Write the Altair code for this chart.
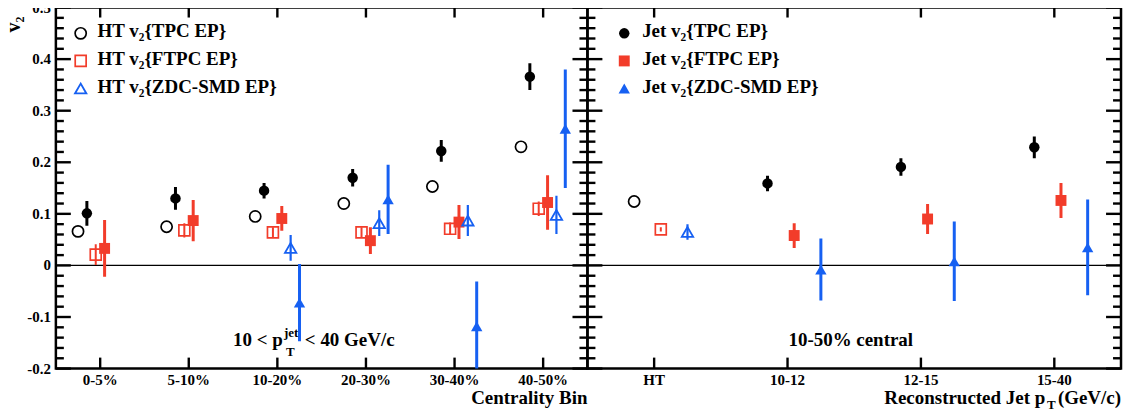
import altair as alt
import numpy as np
import pandas as pd

# ---------------- data ----------------
cent_bins = ["0-5%", "5-10%", "10-20%", "20-30%", "30-40%", "40-50%"]

ht_tpc_cent = [0.066, 0.075, 0.095, 0.120, 0.153, 0.230]
ht_tpc_cent_err = [0.0, 0.0, 0.0, 0.0, 0.0, 0.0]
jet_tpc_cent = [0.101, 0.130, 0.145, 0.170, 0.222, 0.366]
jet_tpc_cent_err = [0.024, 0.022, 0.015, 0.017, 0.021, 0.026]
ht_ftpc_cent = [0.021, 0.068, 0.064, 0.064, 0.071, 0.110]
ht_ftpc_cent_err = [0.020, 0.014, 0.010, 0.010, 0.012, 0.014]
jet_ftpc_cent = [0.033, 0.087, 0.091, 0.048, 0.084, 0.122]
jet_ftpc_cent_err = [0.055, 0.040, 0.024, 0.026, 0.033, 0.053]
ht_zdc_cent = [None, None, 0.034, 0.082, 0.087, 0.098]
ht_zdc_cent_err = [None, None, 0.025, 0.025, 0.030, 0.037]
jet_zdc_cent = [None, None, -0.072, 0.128, -0.118, 0.265]
jet_zdc_cent_err = [None, None, 0.075, 0.067, 0.087, 0.115]

pt_bins = ["HT", "10-12", "12-15", "15-40"]

ht_tpc_pt = [0.124, None, None, None]
ht_tpc_pt_err = [0.0, None, None, None]
ht_ftpc_pt = [0.070, None, None, None]
ht_ftpc_pt_err = [0.004, None, None, None]
ht_zdc_pt = [0.065, None, None, None]
ht_zdc_pt_err = [0.015, None, None, None]
jet_tpc_pt = [None, 0.159, 0.191, 0.229]
jet_tpc_pt_err = [None, 0.015, 0.017, 0.021]
jet_ftpc_pt = [None, 0.058, 0.090, 0.126]
jet_ftpc_pt_err = [None, 0.024, 0.029, 0.034]
jet_zdc_pt = [None, -0.008, 0.008, 0.035]
jet_zdc_pt_err = [None, 0.060, 0.077, 0.093]

y_major = [-0.2, -0.1, 0.0, 0.1, 0.2, 0.3, 0.4, 0.5]
y_major_labels = ["-0.2", "-0.1", "0", "0.1", "0.2", "0.3", "0.4", "0.5"]

HT_TPC = "HT v\u2082{TPC EP}"
HT_FTPC = "HT v\u2082{FTPC EP}"
HT_ZDC = "HT v\u2082{ZDC-SMD EP}"
JET_TPC = "Jet v\u2082{TPC EP}"
JET_FTPC = "Jet v\u2082{FTPC EP}"
JET_ZDC = "Jet v\u2082{ZDC-SMD EP}"

# ---------------- style ----------------
FONT = "Liberation Serif"
BLACK = "#000000"
RED = "#f23c2a"
BLUE = "#1660f2"
W1, W2, H = 533, 535, 362

STYLE = {
    HT_TPC: dict(shape="circle", color=BLACK, filled=False, size=125, sw=1.7, ew=2.0),
    HT_FTPC: dict(shape="square", color=RED, filled=False, size=120, sw=1.7, ew=2.0),
    HT_ZDC: dict(shape="triangle-up", color=BLUE, filled=False, size=130, sw=1.8, ew=2.2),
    JET_TPC: dict(shape="circle", color=BLACK, filled=True, size=110, sw=0, ew=3.0),
    JET_FTPC: dict(shape="square", color=RED, filled=True, size=120, sw=0, ew=3.0),
    JET_ZDC: dict(shape="triangle-up", color=BLUE, filled=True, size=130, sw=0, ew=3.0),
}

YS = alt.Scale(domain=[-0.2, 0.5], nice=False, zero=False)
minor = [round(float(t), 2) for t in np.arange(-0.2, 0.5001, 0.02)
         if all(abs(t - m) > 1e-6 for m in y_major)]


def series_df(values, errs, offset):
    rows = []
    for i, (v, e) in enumerate(zip(values, errs)):
        if v is None:
            continue
        rows.append({"x": i + offset, "v": v, "lo": v - e, "hi": v + e})
    return pd.DataFrame(rows)


def txt(size, **kw):
    return dict(font=FONT, fontWeight="bold", fontSize=size, color="black", **kw)


def make_panel(width, cats, series, legend_names, legend_x, legend_tx, left_labels):
    n = len(cats)
    XS = alt.Scale(domain=[-0.5, n - 0.5], nice=False, zero=False)

    def X(f):
        return alt.X(f, type="quantitative", scale=XS, axis=None)

    def Y(f):
        return alt.Y(f, type="quantitative", scale=YS, axis=None)

    layers = []
    # zero line
    layers.append(alt.Chart(pd.DataFrame({"v": [0.0]})).mark_rule(color="black", strokeWidth=1.3)
                  .encode(y=Y("v")))
    # inward y ticks on both sides
    for vals, ln in ((y_major, 15), (minor, 8)):
        d = pd.DataFrame({"v": vals})
        layers.append(alt.Chart(d).mark_rule(color="black", strokeWidth=2.4)
                      .encode(y=Y("v"), x=alt.value(0), x2=alt.value(ln)))
        layers.append(alt.Chart(d).mark_rule(color="black", strokeWidth=2.4)
                      .encode(y=Y("v"), x=alt.value(width - ln), x2=alt.value(width)))
    # x ticks top and bottom
    cd = pd.DataFrame({"c": list(range(n)), "label": cats})
    layers.append(alt.Chart(cd).mark_rule(color="black", strokeWidth=2.4)
                  .encode(x=X("c"), y=alt.value(0), y2=alt.value(10)))
    layers.append(alt.Chart(cd).mark_rule(color="black", strokeWidth=2.4)
                  .encode(x=X("c"), y=alt.value(H - 11), y2=alt.value(H)))
    layers.append(alt.Chart(cd).mark_text(**txt(15, align="center", baseline="alphabetic"))
                  .encode(x=X("c"), y=alt.value(H + 16), text="label:N"))
    if left_labels:
        yd = pd.DataFrame({"v": y_major, "label": y_major_labels})
        layers.append(alt.Chart(yd).mark_text(**txt(15, align="right", baseline="middle"))
                      .encode(y=Y("v"), x=alt.value(-5), text="label:N"))
    # data: error bars then markers
    for name, vals, errs, off in series:
        st = STYLE[name]
        d = series_df(vals, errs, off)
        if (d["hi"] - d["lo"]).max() > 0:
            layers.append(alt.Chart(d).mark_rule(color=st["color"], strokeWidth=st["ew"], clip=True)
                          .encode(x=X("x"), y=Y("lo"), y2=alt.Y2("hi")))
        layers.append(alt.Chart(d).mark_point(shape=st["shape"], filled=st["filled"], size=st["size"],
                                              color=st["color"], strokeWidth=st["sw"], opacity=1)
                      .encode(x=X("x"), y=Y("v")))
    # legend
    legend_top, legend_step = 0.450, 0.0535
    for i, name in enumerate(legend_names):
        st = STYLE[name]
        d = pd.DataFrame({"x": [legend_x], "v": [legend_top - i * legend_step], "t": [name]})
        layers.append(alt.Chart(d).mark_point(shape=st["shape"], filled=st["filled"], size=st["size"],
                                              color=st["color"], strokeWidth=st["sw"], opacity=1)
                      .encode(x=X("x"), y=Y("v")))
        d2 = pd.DataFrame({"x": [legend_tx], "v": [legend_top - i * legend_step], "t": [name]})
        layers.append(alt.Chart(d2).mark_text(**txt(19, align="left", baseline="alphabetic", dy=4))
                      .encode(x=X("x"), y=Y("v"), text="t:N"))
    return layers, X, Y


left_series = [
    (HT_TPC, ht_tpc_cent, ht_tpc_cent_err, -0.25),
    (JET_TPC, jet_tpc_cent, jet_tpc_cent_err, -0.15),
    (HT_FTPC, ht_ftpc_cent, ht_ftpc_cent_err, -0.05),
    (JET_FTPC, jet_ftpc_cent, jet_ftpc_cent_err, 0.05),
    (HT_ZDC, ht_zdc_cent, ht_zdc_cent_err, 0.15),
    (JET_ZDC, jet_zdc_cent, jet_zdc_cent_err, 0.25),
]
right_series = [
    (HT_TPC, ht_tpc_pt, ht_tpc_pt_err, -0.15),
    (HT_FTPC, ht_ftpc_pt, ht_ftpc_pt_err, 0.05),
    (HT_ZDC, ht_zdc_pt, ht_zdc_pt_err, 0.25),
    (JET_TPC, jet_tpc_pt, jet_tpc_pt_err, -0.15),
    (JET_FTPC, jet_ftpc_pt, jet_ftpc_pt_err, 0.05),
    (JET_ZDC, jet_zdc_pt, jet_zdc_pt_err, 0.25),
]

L, XL, YL = make_panel(W1, cent_bins, left_series, [HT_TPC, HT_FTPC, HT_ZDC], -0.22, -0.03, True)
R, XR, YR = make_panel(W2, pt_bins, right_series, [JET_TPC, JET_FTPC, JET_ZDC], -0.224, -0.09, False)

one = pd.DataFrame({"x": [1.5], "v": [-0.157]})
# left annotations
L.append(alt.Chart(one).mark_text(**txt(19, align="left", baseline="alphabetic"))
         .encode(x=XL("x"), y=YL("v"), text=alt.value("10 < p")))
L.append(alt.Chart(one).mark_text(**txt(13, align="left", baseline="alphabetic", dx=51, dy=-9))
         .encode(x=XL("x"), y=YL("v"), text=alt.value("jet")))
L.append(alt.Chart(one).mark_text(**txt(13, align="left", baseline="alphabetic", dx=53, dy=10))
         .encode(x=XL("x"), y=YL("v"), text=alt.value("T")))
L.append(alt.Chart(one).mark_text(**txt(19, align="left", baseline="alphabetic", dx=72))
         .encode(x=XL("x"), y=YL("v"), text=alt.value("< 40 GeV/c")))
L.append(alt.Chart(pd.DataFrame({"t": ["Centrality Bin"]}))
         .mark_text(**txt(19, align="right", baseline="alphabetic"))
         .encode(x=alt.value(W1), y=alt.value(H + 36), text="t:N"))
L.append(alt.Chart(pd.DataFrame({"t": ["v\u2082"]}))
         .mark_text(**txt(20, align="right", baseline="alphabetic", angle=270))
         .encode(x=alt.value(-36), y=alt.value(9), text="t:N"))

# right annotations
one_r = pd.DataFrame({"x": [1.474], "v": [-0.157]})
R.append(alt.Chart(one_r).mark_text(**txt(19, align="center", baseline="alphabetic"))
         .encode(x=XR("x"), y=YR("v"), text=alt.value("10-50% central")))
R.append(alt.Chart(pd.DataFrame({"t": ["Reconstructed Jet p"]}))
         .mark_text(**txt(19, align="right", baseline="alphabetic"))
         .encode(x=alt.value(W2 - 76), y=alt.value(H + 36), text="t:N"))
R.append(alt.Chart(pd.DataFrame({"t": ["T"]}))
         .mark_text(**txt(13, align="center", baseline="alphabetic"))
         .encode(x=alt.value(W2 - 70), y=alt.value(H + 41), text="t:N"))
R.append(alt.Chart(pd.DataFrame({"t": ["(GeV/c)"]}))
         .mark_text(**txt(19, align="right", baseline="alphabetic"))
         .encode(x=alt.value(W2), y=alt.value(H + 36), text="t:N"))

left = alt.layer(*L).properties(width=W1, height=H)
right = alt.layer(*R).properties(width=W2, height=H)

chart = (alt.hconcat(left, right, spacing=0, bounds="flush")
         .properties(padding={"left": -6, "top": -10, "right": 0, "bottom": 0}, background="white")
         .configure_view(stroke="black", strokeWidth=2.5))

chart.save("out.html", embed_options={"renderer": "svg", "actions": False})
